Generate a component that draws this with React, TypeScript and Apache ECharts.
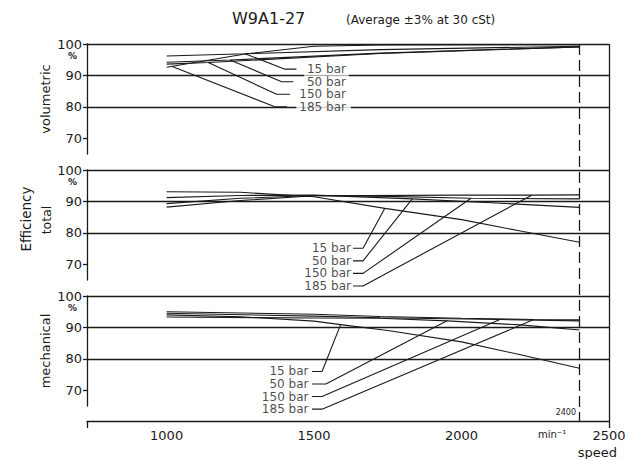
import React, { useEffect, useRef } from "react";
import * as echarts from "echarts";

const INK = "#1a1a1a";
const FONT = "'DejaVu Sans', sans-serif";

// ---- texts ----
const titleText = "W9A1-27";
const subtitleText = "(Average ±3% at 30 cSt)";
const pressureLabels = ["15 bar", "50 bar", "150 bar", "185 bar"];

// ---- axes ----
const speedMin = 730;
const speedMax = 2500;
const speedTicks = [1000, 1500, 2000, 2500];
const speedEndTicks = [730, 2500];
const effMin = 65;
const effMax = 100;
const effTicks = [70, 80, 90, 100];
const maxSpeed = 2400;

// ---- volumetric efficiency [rpm, %] ----
const vol15 = [[1000, 96.2], [1266, 96.9], [1724, 98.2], [2400, 99.3]];
const vol50 = [[1000, 94.2], [1215, 94.9], [1724, 97.1], [2400, 99.1]];
const vol150 = [[1000, 93.6], [1141, 94.1], [1724, 97.0], [2400, 99.1]];
const vol185 = [[1000, 92.6], [1266, 96.8], [1500, 99.3], [1724, 99.7], [2400, 99.8]];

// ---- total efficiency [rpm, %] ----
const tot15 = [[1000, 93.1], [1250, 92.9], [1500, 91.5], [1740, 87.8], [2000, 84.2], [2200, 80.6], [2400, 77.0]];
const tot50 = [[1000, 91.2], [1250, 91.9], [1500, 92.0], [1833, 90.8], [2100, 89.6], [2400, 88.1]];
const tot150 = [[1000, 89.3], [1250, 91.0], [1500, 91.9], [1750, 91.6], [2032, 91.0], [2400, 90.8]];
const tot185 = [[1000, 88.2], [1250, 90.3], [1500, 91.8], [2000, 92.0], [2238, 92.0], [2400, 92.1]];

// ---- mechanical efficiency [rpm, %] ----
const mech15 = [[1000, 94.0], [1250, 93.4], [1500, 92.0], [1590, 90.9], [1750, 89.0], [2000, 85.4], [2200, 81.3], [2400, 77.0]];
const mech50 = [[1000, 93.3], [1500, 93.0], [1724, 92.9], [1951, 92.1], [2200, 90.8], [2400, 89.2]];
const mech150 = [[1000, 94.5], [1500, 93.6], [1724, 93.1], [2130, 92.5], [2400, 92.1]];
const mech185 = [[1000, 95.0], [1500, 94.2], [1724, 93.5], [2000, 92.9], [2245, 92.5], [2400, 92.4]];

// ---- leader lines: anchor on curve -> bend -> end near label; label point ----
const volAnchor = [[1266, 96.9], [1215, 94.9], [1141, 94.1], [1017, 92.9]];
const volBend = [[1401, 92], [1390, 88], [1373, 84], [1367, 80]];
const volEnd = [[1440, 92], [1430, 88], [1418, 84], [1408, 80]];
const volLabel = [[1608, 92], [1608, 88], [1608, 84], [1608, 80]];

const totAnchor = [[1740, 87.8], [1833, 90.8], [2032, 91.0], [2238, 92.0]];
const totBend = [[1666, 75.1], [1666, 71.1], [1666, 67.1], [1666, 63.1]];
const totEnd = [[1632, 75.1], [1632, 71.1], [1632, 67.1], [1632, 63.1]];
const totLabel = [[1625, 75.1], [1625, 71.1], [1625, 67.1], [1625, 63.1]];

const mechAnchor = [[1590, 90.9], [1951, 92.1], [2130, 92.5], [2245, 92.5]];
const mechBend = [[1527, 76], [1540, 72], [1527, 68], [1527, 64]];
const mechEnd = [[1493, 76], [1493, 72], [1493, 68], [1493, 64]];
const mechLabel = [[1481, 76], [1481, 72], [1481, 68], [1481, 64]];

const panels = [
  { curves: [vol15, vol50, vol150, vol185], anchor: volAnchor, bend: volBend, end: volEnd, label: volLabel },
  { curves: [tot15, tot50, tot150, tot185], anchor: totAnchor, bend: totBend, end: totEnd, label: totLabel },
  { curves: [mech15, mech50, mech150, mech185], anchor: mechAnchor, bend: mechBend, end: mechEnd, label: mechLabel },
];

// label white-box paddings [top, right, bottom, left] per panel / label (style only)
const labelPads = [
  [[0, 3, 0, 3], [0, 3, 0, 3], [0, 3, 0, 3], [0, 5, 0, 3]],
  [[0, 2, 0, 2], [0, 26, 0, 25], [0, 2, 0, 2], [0, 2, 0, 2]],
  [[0, 8, 0, 2], [0, 22, 0, 26], [0, 8, 0, 2], [0, 8, 0, 2]],
];

const GRID_LEFT = 87;
const GRID_RIGHT = 31;
const PANEL_TOPS = [44, 170, 296];
const PANEL_H = 110;

function buildOption() {
  const lineStyle = { color: INK, width: 1.3 };
  const grid: any[] = PANEL_TOPS.map((t) => ({ left: GRID_LEFT, right: GRID_RIGHT, top: t, height: PANEL_H }));
  grid.push({ left: GRID_LEFT, right: GRID_RIGHT, top: 44, height: 377 });

  const xAxis: any[] = PANEL_TOPS.map((_, i) => ({
    type: "value", gridIndex: i, min: speedMin, max: speedMax, show: false,
  }));
  xAxis.push({
    type: "value", gridIndex: 3, min: speedMin, max: speedMax, splitNumber: 4,
    axisLine: { show: true, onZero: false, lineStyle },
    axisTick: { show: true, customValues: speedEndTicks, length: 7, lineStyle },
    axisLabel: {
      customValues: speedTicks,
      formatter: (v: number) => (speedTicks.indexOf(v) >= 0 ? String(v) : ""),
      margin: 8, fontSize: 13, color: INK, fontFamily: FONT,
    },
    splitLine: { show: true, showMinLine: false, lineStyle },
  });

  const yAxis: any[] = PANEL_TOPS.map((_, i) => ({
    type: "value", gridIndex: i, min: effMin, max: effMax, splitNumber: 3,
    axisLine: { show: true, lineStyle },
    axisTick: { show: true, customValues: effTicks, length: 4, lineStyle },
    axisLabel: {
      customValues: effTicks,
      formatter: (v: number) => (effTicks.indexOf(v) >= 0 ? String(v) : ""),
      margin: 5, fontSize: 13, color: INK, fontFamily: FONT,
    },
    splitLine: { show: true, showMinLine: false, lineStyle },
  }));
  yAxis.push({ type: "value", gridIndex: 3, min: 0, max: 100, show: false });

  const series: any[] = [];
  panels.forEach((p, pi) => {
    p.curves.forEach((c) => {
      series.push({
        type: "line", xAxisIndex: pi, yAxisIndex: pi, data: c, symbol: "none",
        lineStyle: { color: INK, width: 1.1 }, z: 2, clip: false, silent: true,
      });
    });
    series.push({
      type: "scatter", xAxisIndex: pi, yAxisIndex: pi, symbolSize: 0, z: 3, clip: false, silent: true,
      data: p.label.map((pt, li) => ({
        value: pt, name: pressureLabels[li],
        label: { padding: labelPads[pi][li], offset: [labelPads[pi][li][1], 0] },
      })),
      label: {
        show: true, position: "left", distance: 0, formatter: "{b}",
        fontSize: 12, fontFamily: FONT, color: INK, backgroundColor: "#ffffff", lineHeight: 12.6,
      },
    });
    p.anchor.forEach((a, li) => {
      series.push({
        type: "line", xAxisIndex: pi, yAxisIndex: pi, data: [a, p.bend[li], p.end[li]], symbol: "none",
        lineStyle: { color: INK, width: 1.1 }, z: 4, clip: false, silent: true,
      });
    });
  });
  series.push({
    type: "line", xAxisIndex: 3, yAxisIndex: 3, data: [[maxSpeed, effMax], [maxSpeed, 0]], symbol: "none",
    lineStyle: { color: INK, width: 1.3, type: [11, 5] }, z: 2, silent: true,
  });

  const txt = (text: string, x: number, y: number, size: number, align = "left", rot = 0, weight = "normal") => ({
    type: "text", x, y, rotation: rot, silent: true,
    style: { text, fill: INK, font: `${weight} ${size}px ${FONT}`, textAlign: align, textVerticalAlign: "middle" },
  });

  const graphic: any[] = [
    txt(titleText, 232, 18, 16),
    txt(subtitleText, 346, 20, 12),
    txt("volumetric", 45, 99, 13, "center", Math.PI / 2),
    txt("Efficiency", 26, 219, 13.5, "center", Math.PI / 2),
    txt("total", 46, 220, 12.5, "center", Math.PI / 2),
    txt("mechanical", 45, 351, 13, "center", Math.PI / 2),
    txt("min⁻¹", 538, 434, 10),
    txt("speed", 617, 452, 13, "right"),
    txt(String(maxSpeed), 576, 412, 8, "right"),
  ];
  PANEL_TOPS.forEach((t) => graphic.push(txt("%", 72.5, t + 11.5, 9, "center", 0, "bold")));

  return { animation: false, backgroundColor: "#ffffff", grid, xAxis, yAxis, series, graphic };
}

export default function App() {
  const ref = useRef<HTMLDivElement>(null);
  useEffect(() => {
    if (!ref.current) return;
    const chart = echarts.init(ref.current, undefined, { renderer: "svg" });
    chart.setOption(buildOption() as any);
    return () => chart.dispose();
  }, []);
  return <div ref={ref} style={{ position: "fixed", left: 0, top: 0, width: 640, height: 459 }} />;
}
